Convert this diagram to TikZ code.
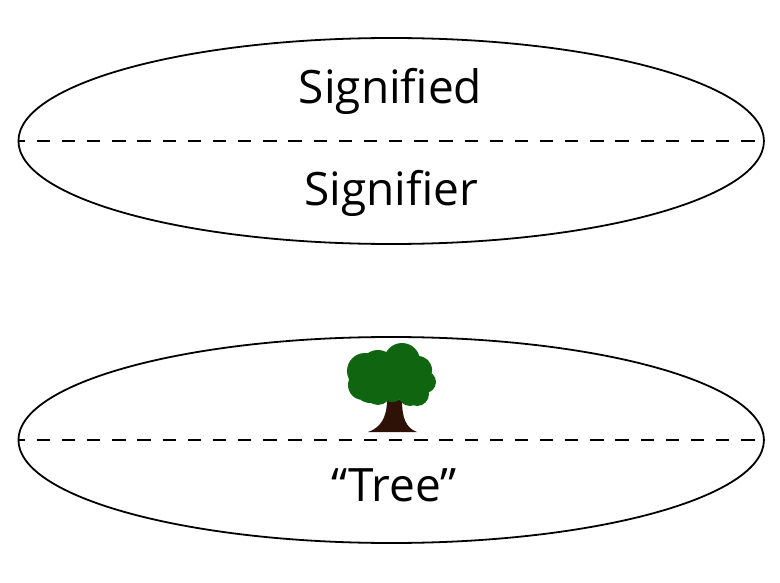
\documentclass[tikz,border=0pt]{standalone}
\usepackage{fontspec}
\setmainfont{Open Sans}
\usetikzlibrary{shapes.geometric}
\definecolor{treegreen}{RGB}{16,102,16}
\definecolor{treebrown}{RGB}{46,18,8}
\tikzset{
    sign/.style={draw,line width=1.8pt,shape=ellipse,minimum width=745.5pt,minimum height=206pt,inner sep=0pt},
    split/.style={line width=1.8pt,dash pattern=on 13.3pt off 11.86pt,dash phase=5.9pt},
    word/.style={font=\fontsize{46}{54}\selectfont,inner sep=0pt,anchor=base}
}
\begin{document}
\begin{tikzpicture}[x=1pt,y=-1pt]
    \useasboundingbox (0,0) rectangle (780,583);
    % Ellipsen
    \node[sign] (upper) at (391.2,141) {};
    \node[sign] (lower) at (391.2,440) {};
    % Trennlinien
    \draw[split] (upper.west) -- (upper.east);
    \draw[split] (lower.west) -- (lower.east);
    % Beschriftungen
    \node[word] (signified) at (390.5,104) {Signified};
    \node[word] (signifier) at (391.5,206) {Signifier};
    \node[word] (tree) at (394,501) {“Tree”};
    % Baum
    \fill[treebrown]
    (368,432) .. controls (380,428) and (387,418) .. (387,400)
    -- (402,400) .. controls (402,418) and (406,428) .. (417,432) -- cycle;
    \fill[treegreen]
    (365,371) circle (18)
    (378,368) circle (18)
    (402,361) circle (18)
    (418,370) circle (14)
    (425,382) circle (11)
    (417,394) circle (12)
    (410,394) circle (12)
    (378,392) circle (13)
    (370,388) circle (15)
    (363,385) circle (15)
    (392,388) circle (14)
    (402,386) circle (14)
    (395,378) circle (20)
    ;
\end{tikzpicture}
\end{document}
